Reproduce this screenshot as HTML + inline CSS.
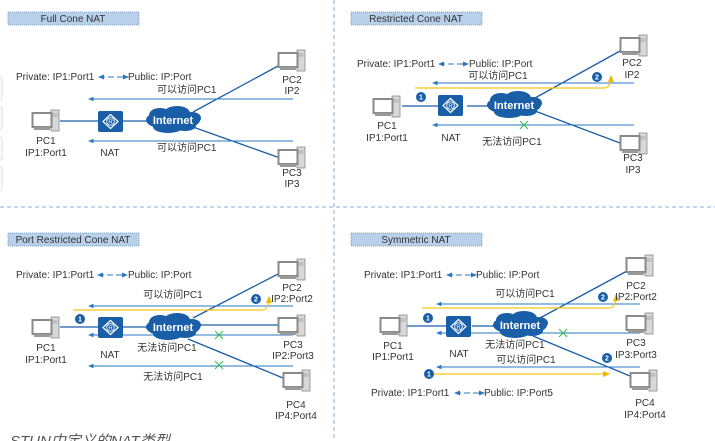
<!DOCTYPE html>
<html><head><meta charset="utf-8"><style>
html,body{margin:0;padding:0;background:#fff;width:715px;height:441px;overflow:hidden}
svg text{font-family:"Liberation Sans","Noto Sans CJK SC",sans-serif;font-size:10px;fill:#333}
</style></head><body>
<svg width="715" height="441" viewBox="0 0 715 441" xmlns="http://www.w3.org/2000/svg">
<defs>
<g id="pc">
<rect x="19" y="0" width="8" height="21" fill="#d8d8d8" stroke="#8a8a8a" stroke-width="0.8"/>
<line x1="20.5" y1="4" x2="25.5" y2="4" stroke="#888" stroke-width="0.6"/>
<line x1="20.5" y1="6" x2="25.5" y2="6" stroke="#888" stroke-width="0.6"/>
<rect x="0.5" y="3" width="19" height="14" fill="#fff" stroke="#8a8a8a" stroke-width="2"/>
<rect x="2" y="17" width="16" height="3" fill="#999"/>
</g>
<g id="nat">
<rect x="0" y="0" width="25" height="21" rx="2" fill="#1a5ea8"/>
<path d="M12.5 3.5 L20 10.5 L12.5 17.5 L5 10.5 Z" fill="none" stroke="#fff" stroke-width="1.2"/>
<circle cx="12.5" cy="10.5" r="3.8" fill="none" stroke="#fff" stroke-width="0.9"/>
<text x="12.5" y="13" text-anchor="middle" style="font-size:6px;fill:#fff">R</text>
</g>
<g id="cloud">
<ellipse cx="0" cy="0" rx="27" ry="10" fill="#1a5ea8"/>
<ellipse cx="-13" cy="-5" rx="11" ry="7" fill="#1a5ea8"/>
<ellipse cx="4" cy="-7" rx="13" ry="7" fill="#1a5ea8"/>
<ellipse cx="19" cy="-2" rx="9" ry="6" fill="#1a5ea8"/>
<ellipse cx="-5" cy="7" rx="15" ry="6" fill="#1a5ea8"/>
<ellipse cx="12" cy="6" rx="11" ry="5" fill="#1a5ea8"/>
<text x="0" y="4" text-anchor="middle" style="font-size:11px;font-weight:bold;fill:#fff">Internet</text>
</g>
<marker id="ab" markerWidth="6" markerHeight="6" refX="5" refY="3" orient="auto"><path d="M0,0.5 L6,3 L0,5.5 Z" fill="#2a77c0"/></marker>
<marker id="ay" markerWidth="6" markerHeight="6" refX="5" refY="3" orient="auto"><path d="M0,0.5 L6,3 L0,5.5 Z" fill="#f2b800"/></marker>
<marker id="abs" markerWidth="6" markerHeight="6" refX="1" refY="3" orient="auto"><path d="M6,0.5 L0,3 L6,5.5 Z" fill="#2a77c0"/></marker>
<g id="dash"><line x1="0" y1="0" x2="29" y2="0" stroke="#2a77c0" stroke-width="1" stroke-dasharray="6,3" marker-end="url(#ab)" marker-start="url(#abs)"/></g>
<g id="x"><path d="M-4,-4 L4,4 M4,-4 L-4,4" stroke="#2fbf4f" stroke-width="1"/></g>
</defs>
<style>.l{stroke:#1a5ea8;stroke-width:1.3;fill:none}.a{stroke:#2a77c0;stroke-width:0.9;fill:none;marker-end:url(#ab)}.y{stroke:#f5c518;stroke-width:1.2;fill:none;marker-end:url(#ay)}.t{fill:#b8d0ea;stroke:#6a8fb5;stroke-width:0.8;stroke-dasharray:1,1}.c{fill:#1a5ea8}.cn{font-size:7px !important;fill:#fff !important;font-weight:bold}</style>

<line x1="334" y1="0" x2="334" y2="441" stroke="#7fb0dc" stroke-width="1" stroke-dasharray="4,3"/>
<line x1="0" y1="207" x2="715" y2="207" stroke="#7fb0dc" stroke-width="1" stroke-dasharray="4,3"/>
<g stroke="#ddd" fill="none"><rect x="-3" y="77" width="5" height="23" rx="2"/><rect x="-3" y="107" width="5" height="23" rx="2"/><rect x="-3" y="137" width="5" height="23" rx="2"/><rect x="-3" y="167" width="5" height="23" rx="2"/></g>

<!-- Panel 1 -->
<rect class="t" x="8" y="12" width="131" height="13"/>
<text x="73" y="22" text-anchor="middle">Full Cone NAT</text>
<text x="16" y="80">Private: IP1:Port1</text>
<use href="#dash" x="99" y="77"/>
<text x="128" y="80">Public: IP:Port</text>
<line class="l" x1="60" y1="121" x2="98" y2="121"/>
<line class="l" x1="123" y1="121" x2="148" y2="121"/>
<line class="l" x1="193" y1="112" x2="278" y2="66"/>
<line class="l" x1="193" y1="127" x2="280" y2="158"/>
<line class="a" x1="293" y1="99" x2="89" y2="99"/>
<line class="a" x1="293" y1="141" x2="89" y2="141"/>
<text x="157" y="93">可以访问PC1</text>
<text x="157" y="151">可以访问PC1</text>
<use href="#pc" x="32" y="110"/><use href="#nat" x="98" y="111"/><use href="#cloud" x="173" y="120"/>
<use href="#pc" x="278" y="50"/><use href="#pc" x="278" y="147"/>
<text x="46" y="144" text-anchor="middle">PC1</text><text x="46" y="156" text-anchor="middle">IP1:Port1</text>
<text x="110" y="156" text-anchor="middle">NAT</text>
<text x="292" y="83" text-anchor="middle">PC2</text><text x="292" y="94" text-anchor="middle">IP2</text>
<text x="292" y="176" text-anchor="middle">PC3</text><text x="292" y="187" text-anchor="middle">IP3</text>

<!-- Panel 2 -->
<rect class="t" x="351" y="12" width="131" height="13"/>
<text x="416" y="22" text-anchor="middle">Restricted Cone NAT</text>
<text x="357" y="67">Private: IP1:Port1</text>
<use href="#dash" x="439" y="64"/>
<text x="469" y="67">Public: IP:Port</text>
<line class="l" x1="402" y1="106" x2="438" y2="106"/>
<line class="l" x1="467" y1="106" x2="488" y2="106"/>
<line class="l" x1="535" y1="98" x2="620" y2="51"/>
<line class="l" x1="535" y1="111" x2="620" y2="143"/>
<line class="a" x1="634" y1="83" x2="433" y2="83"/>
<line class="a" x1="634" y1="125" x2="433" y2="125"/>
<path class="y" d="M415,88 L604,88 Q611,88 611,76"/>
<text x="498" y="79" text-anchor="middle">可以访问PC1</text>
<use href="#x" x="524" y="125"/>
<text x="512" y="145" text-anchor="middle">无法访问PC1</text>
<circle class="c" cx="421" cy="97" r="5"/><text class="cn" x="421" y="99.5" text-anchor="middle">1</text>
<circle class="c" cx="597" cy="77" r="5"/><text class="cn" x="597" y="79.5" text-anchor="middle">2</text>
<use href="#pc" x="373" y="96"/><use href="#nat" x="438" y="95"/><use href="#cloud" x="514" y="105"/>
<use href="#pc" x="620" y="35"/><use href="#pc" x="620" y="133"/>
<text x="387" y="129" text-anchor="middle">PC1</text><text x="387" y="141" text-anchor="middle">IP1:Port1</text>
<text x="451" y="141" text-anchor="middle">NAT</text>
<text x="632" y="66" text-anchor="middle">PC2</text><text x="632" y="78" text-anchor="middle">IP2</text>
<text x="633" y="161" text-anchor="middle">PC3</text><text x="633" y="173" text-anchor="middle">IP3</text>

<!-- Panel 3 -->
<rect class="t" x="8" y="233" width="131" height="13"/>
<text x="73" y="243" text-anchor="middle">Port Restricted Cone NAT</text>
<text x="16" y="278">Private: IP1:Port1</text>
<use href="#dash" x="98" y="275"/>
<text x="128" y="278">Public: IP:Port</text>
<line class="l" x1="60" y1="327" x2="98" y2="327"/>
<line class="l" x1="123" y1="327" x2="148" y2="327"/>
<line class="l" x1="193" y1="318" x2="278" y2="274"/>
<line class="l" x1="198" y1="325" x2="280" y2="325"/>
<line class="l" x1="188" y1="339" x2="283" y2="378"/>
<line class="a" x1="293" y1="306" x2="89" y2="306"/>
<line class="a" x1="293" y1="335" x2="89" y2="335"/>
<line class="a" x1="293" y1="366" x2="89" y2="366"/>
<path class="y" d="M73,310 L262,310 Q269,310 269,297"/>
<text x="173" y="298" text-anchor="middle">可以访问PC1</text>
<use href="#x" x="219" y="335"/><use href="#x" x="219" y="365"/>
<text x="167" y="351" text-anchor="middle">无法访问PC1</text>
<text x="173" y="380" text-anchor="middle">无法访问PC1</text>
<circle class="c" cx="80" cy="319" r="5"/><text class="cn" x="80" y="321.5" text-anchor="middle">1</text>
<circle class="c" cx="256" cy="299" r="5"/><text class="cn" x="256" y="301.5" text-anchor="middle">2</text>
<use href="#pc" x="32" y="317"/><use href="#nat" x="98" y="317"/><use href="#cloud" x="173" y="327"/>
<use href="#pc" x="278" y="259"/><use href="#pc" x="278" y="315"/><use href="#pc" x="283" y="370"/>
<text x="46" y="351" text-anchor="middle">PC1</text><text x="46" y="363" text-anchor="middle">IP1:Port1</text>
<text x="110" y="358" text-anchor="middle">NAT</text>
<text x="292" y="291" text-anchor="middle">PC2</text><text x="292" y="302" text-anchor="middle">IP2:Port2</text>
<text x="293" y="348" text-anchor="middle">PC3</text><text x="293" y="359" text-anchor="middle">IP2:Port3</text>
<text x="296" y="408" text-anchor="middle">PC4</text><text x="296" y="419" text-anchor="middle">IP4:Port4</text>
<text x="10" y="446" style="font-size:15px;font-style:italic;fill:#555">STUN中定义的NAT类型</text>

<!-- Panel 4 -->
<rect class="t" x="351" y="233" width="131" height="13"/>
<text x="416" y="243" text-anchor="middle">Symmetric NAT</text>
<text x="364" y="278">Private: IP1:Port1</text>
<use href="#dash" x="447" y="275"/>
<text x="476" y="278">Public: IP:Port</text>
<line class="l" x1="407" y1="326" x2="446" y2="326"/>
<line class="l" x1="472" y1="326" x2="495" y2="326"/>
<line class="l" x1="540" y1="318" x2="627" y2="271"/>
<line class="l" x1="533" y1="336" x2="630" y2="376"/>
<line class="a" x1="640" y1="304" x2="437" y2="304"/>
<line class="a" x1="640" y1="333" x2="437" y2="333"/>
<line class="a" x1="640" y1="367" x2="437" y2="367"/>
<path class="y" d="M422,308 L609,308 Q616,308 616,295"/>
<line class="y" x1="428" y1="374" x2="609" y2="374"/>
<text x="525" y="297" text-anchor="middle">可以访问PC1</text>
<text x="526" y="363" text-anchor="middle">可以访问PC1</text>
<use href="#x" x="563" y="333"/>
<text x="515" y="348" text-anchor="middle">无法访问PC1</text>
<circle class="c" cx="428" cy="318" r="5"/><text class="cn" x="428" y="320.5" text-anchor="middle">1</text>
<circle class="c" cx="603" cy="297" r="5"/><text class="cn" x="603" y="299.5" text-anchor="middle">2</text>
<circle class="c" cx="607" cy="358" r="5"/><text class="cn" x="607" y="360.5" text-anchor="middle">2</text>
<circle class="c" cx="429" cy="374" r="5"/><text class="cn" x="429" y="376.5" text-anchor="middle">1</text>
<text x="371" y="396">Private: IP1:Port1</text>
<use href="#dash" x="455" y="393"/>
<text x="484" y="396">Public: IP:Port5</text>
<use href="#pc" x="380" y="315"/><use href="#nat" x="446" y="316"/><use href="#cloud" x="520" y="325"/>
<use href="#pc" x="626" y="255"/><use href="#pc" x="626" y="313"/><use href="#pc" x="630" y="370"/>
<text x="393" y="349" text-anchor="middle">PC1</text><text x="393" y="360" text-anchor="middle">IP1:Port1</text>
<text x="459" y="357" text-anchor="middle">NAT</text>
<text x="636" y="289" text-anchor="middle">PC2</text><text x="636" y="300" text-anchor="middle">IP2:Port2</text>
<text x="636" y="346" text-anchor="middle">PC3</text><text x="636" y="358" text-anchor="middle">IP3:Port3</text>
<text x="645" y="406" text-anchor="middle">PC4</text><text x="645" y="418" text-anchor="middle">IP4:Port4</text>
</svg>
</body></html>
